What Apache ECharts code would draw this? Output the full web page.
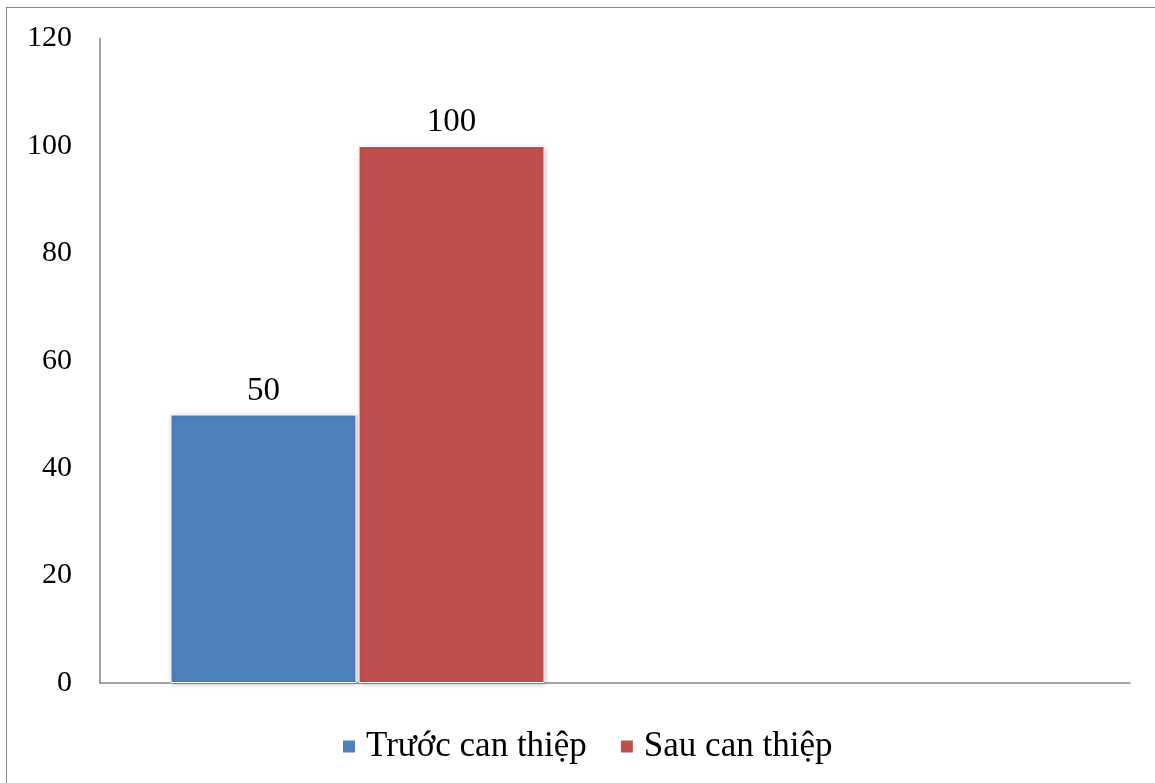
<!DOCTYPE html>
<html><head><meta charset="utf-8">
<script src="https://cdn.jsdelivr.net/npm/echarts@6/dist/echarts.min.js"></script>
<style>
html,body{margin:0;padding:0;background:#fff;overflow:hidden}
#frame{position:absolute;left:6px;top:7px;width:1160px;height:790px;border:1px solid #868686;box-sizing:border-box}
#chart{position:absolute;left:0;top:0;width:1155px;height:783px}
</style></head>
<body>
<div id="frame"></div>
<div id="chart"></div>
<script>
const categories = ['', ''];
const seriesNames = ['Trước can thiệp', 'Sau can thiệp'];
const beforeValues = [50, null];
const afterValues = [100, null];
const yTicks = {min: 0, max: 120, interval: 20};

const font = '"Liberation Serif", "Times New Roman", serif';
const chart = echarts.init(document.getElementById('chart'));
const common = {
  type: 'bar', barWidth: 186, barGap: '1.1%',
  label: {show: true, position: 'top', distance: 7, color: '#000', fontSize: 33, fontFamily: font},
  emphasis: {disabled: true}
};
chart.setOption({
  animation: false,
  grid: {left: 100, right: 25, top: 38.6, bottom: 100, containLabel: false},
  legend: {
    bottom: 14, left: 336, itemWidth: 14, itemHeight: 14, itemGap: 32,
    icon: 'rect',
    textStyle: {fontSize: 35, fontFamily: font, color: '#000', padding: [0, 0, 0, 5]},
    data: seriesNames
  },
  xAxis: {
    type: 'category', data: categories,
    axisLine: {lineStyle: {color: '#868686', width: 1.5}},
    axisTick: {show: false}, axisLabel: {show: false}
  },
  yAxis: {
    type: 'value', min: yTicks.min, max: yTicks.max, interval: yTicks.interval,
    axisLine: {show: true, lineStyle: {color: '#868686', width: 1.5}},
    axisTick: {show: false}, splitLine: {show: false},
    axisLabel: {fontSize: 30, fontFamily: font, color: '#000', margin: 28}
  },
  series: [
    Object.assign({}, common, {name: seriesNames[0], data: beforeValues,
      itemStyle: {color: '#4F81BD', borderColor: '#fff', borderWidth: 1, shadowBlur: 4, shadowColor: 'rgba(0,0,0,0.25)', shadowOffsetX: 1, shadowOffsetY: 1}}),
    Object.assign({}, common, {name: seriesNames[1], data: afterValues,
      itemStyle: {color: '#C0504D', borderColor: '#fff', borderWidth: 1, shadowBlur: 4, shadowColor: 'rgba(0,0,0,0.25)', shadowOffsetX: 1, shadowOffsetY: 1}})
  ]
});
</script>
</body></html>
